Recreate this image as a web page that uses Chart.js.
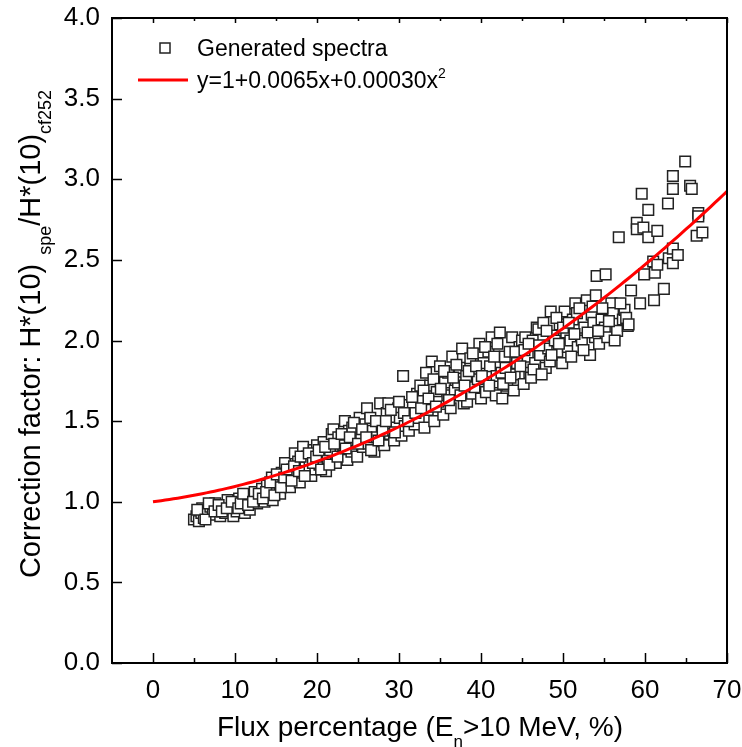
<!DOCTYPE html>
<html>
<head>
<meta charset="utf-8">
<script src="https://cdn.jsdelivr.net/npm/chart.js@4.4.1/dist/chart.umd.min.js"></script>
<style>
  html, body { margin: 0; padding: 0; background: #fff; }
</style>
</head>
<body>
<canvas id="grafico" width="742" height="747"></canvas>
<script>
// flux fraction above 10 MeV (%) and correction factor for each generated spectrum
const fluxPct = [
  5.0, 5.3, 5.6, 5.9, 6.2, 6.0, 6.6, 7.0, 7.3, 7.6, 7.9, 8.2, 8.5, 8.8, 9.1, 9.4, 9.8, 10.0,
  10.2, 10.5, 10.9, 11.2, 11.5, 11.8, 12.0, 12.4, 12.7, 13.0, 13.3, 13.6, 13.9, 14.1,
  14.5, 14.6, 14.9, 15.2, 15.5, 15.7, 15.9, 16.1, 16.4, 16.7, 17.0, 17.3, 17.5, 17.7, 17.9,
  18.2, 18.3, 18.6, 18.8, 19.1, 19.3, 19.6, 19.8, 20.0, 20.3, 20.6, 20.8, 21.1, 21.3, 21.6, 21.8,
  22.0, 22.3, 22.6, 22.9, 23.2, 23.4, 23.7, 23.9, 24.2, 24.3, 24.6, 24.9, 25.2, 25.4, 25.6, 25.9,
  26.1, 26.3, 26.5, 26.8, 27.0, 27.3, 27.7, 27.9, 28.2, 28.5, 28.7, 28.9, 29.1, 29.4, 29.7, 29.9,
  30.1, 30.3, 30.5, 30.7, 31.0, 31.2, 31.4, 31.7, 31.9, 32.2, 32.4, 32.6, 32.9, 33.1, 33.3, 33.5, 33.8, 34.0,
  34.3, 34.6, 34.8, 35.0, 35.2, 35.4, 35.6, 35.9, 36.0, 36.3, 36.5, 36.8, 37.2, 37.4, 37.7, 37.9,
  38.2, 38.3, 38.7, 38.9, 39.2, 39.6, 39.8, 40.0, 40.3, 40.6, 40.9, 41.1, 41.3, 41.5, 41.8, 41.9,
  42.3, 42.5, 42.6, 42.9, 43.2, 43.5, 43.8, 44.0, 44.1, 44.4, 44.7, 45.0, 45.2, 45.4, 45.7, 45.9,
  46.1, 46.3, 46.6, 46.8, 47.0, 47.2, 47.6, 47.9, 48.2, 48.4, 48.5, 48.8, 49.0, 49.3, 49.6, 49.9,
  50.2, 50.4, 50.6, 50.9, 51.2, 51.5, 51.8, 51.7, 52.3, 52.6, 52.9, 53.3, 53.5, 53.7, 53.9, 54.0,
  54.1, 54.4, 54.7, 55.1, 55.2, 55.4, 55.9, 56.1, 56.6, 56.8, 57.3, 57.5, 57.9,
  58.3, 59.0, 59.0, 59.4, 59.6, 59.8, 59.9, 60.4, 60.4, 61.0, 61.1, 61.2, 61.5, 61.5, 62.3,
  62.8, 62.9, 63.4, 63.4, 63.4, 63.4, 64.0, 64.9, 65.5, 65.7, 66.3, 66.5, 66.5, 67.0,
  5.4, 6.4, 6.8, 7.5, 8.0, 8.4, 9.0, 9.6, 10.4, 10.7, 11.0, 11.6, 12.2, 12.9, 13.4, 13.8,
  14.3, 14.8, 15.1, 15.6, 16.0, 16.3, 16.9, 17.2, 17.8, 18.0, 18.5, 19.0, 19.5, 19.9, 20.2, 20.5,
  21.0, 21.5, 22.1, 22.5, 23.0, 23.5, 24.0, 24.5, 25.0, 25.5, 26.0, 26.6, 27.2, 27.5, 28.0, 28.4,
  29.0, 29.5, 30.0, 30.6, 31.1, 31.6, 32.0, 32.7, 33.0, 33.6, 34.2, 34.5, 35.1, 35.5, 36.1, 36.6,
  37.0, 37.5, 38.0, 38.5, 39.0, 39.4, 40.1, 40.5, 41.0, 41.6, 42.0, 42.7, 43.0, 43.6, 44.2, 44.8,
  45.3, 45.8, 46.4, 47.1, 47.4, 48.0, 48.6, 49.2, 49.5, 50.0, 50.7, 51.0, 51.4, 52.0, 52.5, 53.0,
  53.6, 54.3, 54.8, 55.6, 56.3, 57.0, 57.7, 58.0
];
const corrFactor = [
  0.89, 0.91, 0.88, 0.93, 0.90, 0.96, 0.94, 0.97, 0.92, 0.99, 0.95, 0.91, 0.97, 0.93, 1.01, 0.95, 0.91, 0.98,
  0.94, 1.02, 0.97, 0.93, 1.01, 0.95, 1.04, 1.06, 0.99, 1.02, 1.08, 1.00, 1.10, 1.04,
  1.15, 1.01, 1.08, 1.12, 1.05, 1.18, 1.10, 1.24, 1.14, 1.09, 1.20, 1.30, 1.16, 1.25, 1.12,
  1.18, 1.34, 1.22, 1.28, 1.26, 1.16, 1.32, 1.20, 1.35, 1.23, 1.29, 1.37, 1.19, 1.27, 1.32, 1.42,
  1.45, 1.24, 1.40, 1.30, 1.35, 1.50, 1.26, 1.44, 1.31, 1.46, 1.38, 1.28, 1.52, 1.42, 1.34, 1.48,
  1.58, 1.36, 1.52, 1.44, 1.31, 1.40, 1.61, 1.47, 1.35, 1.55, 1.61, 1.42, 1.51, 1.38, 1.46, 1.58,
  1.52, 1.41, 1.78, 1.47, 1.60, 1.44, 1.55, 1.59, 1.48, 1.67, 1.52, 1.72, 1.63, 1.46, 1.80, 1.57, 1.72, 1.87,
  1.50, 1.68, 1.62, 1.84, 1.76, 1.54, 1.74, 1.66, 1.80, 1.58, 1.90, 1.69, 1.74, 1.83, 1.95, 1.61,
  1.78, 1.62, 1.89, 1.67, 1.71, 1.76, 1.98, 1.64, 1.86, 1.68, 1.93, 1.84, 2.02, 1.74, 1.66, 1.78,
  2.05, 1.80, 1.64, 1.90, 1.72, 1.93, 2.02, 1.69, 1.79, 1.86, 1.96, 2.00, 1.73, 2.02, 1.90, 1.80,
  1.77, 2.00, 1.86, 2.08, 2.07, 1.91, 2.11, 1.83, 1.95, 1.87, 2.18, 2.03, 2.00, 1.93, 2.10, 1.86,
  2.18, 2.05, 1.96, 2.00, 2.13, 2.23, 1.96, 2.17, 2.00, 2.08, 2.25, 1.91, 2.16, 2.11, 2.02, 2.28,
  2.40, 1.98, 2.13, 2.08, 2.41, 2.02, 2.23, 2.17, 2.06, 2.64, 2.13, 2.19, 2.09,
  2.31, 2.73, 2.69, 2.23, 2.91, 2.70, 2.41, 2.81, 2.64, 2.49, 2.25, 2.42, 2.68, 2.47, 2.32,
  2.85, 2.51, 3.02, 2.94, 2.57, 2.48, 2.53, 3.11, 2.96, 2.94, 2.65, 2.79, 2.77, 2.67,
  0.95, 0.89, 0.99, 0.94, 0.98, 0.94, 0.96, 1.00, 0.96, 0.99, 1.05, 0.98, 1.00, 1.05, 1.02, 1.06,
  1.12, 1.04, 1.17, 1.09, 1.15, 1.20, 1.13, 1.22, 1.19, 1.28, 1.16, 1.30, 1.24, 1.28, 1.32, 1.20,
  1.34, 1.23, 1.36, 1.28, 1.42, 1.33, 1.40, 1.49, 1.36, 1.45, 1.40, 1.32, 1.50, 1.38, 1.44, 1.50,
  1.57, 1.43, 1.62, 1.55, 1.50, 1.65, 1.55, 1.58, 1.69, 1.64, 1.76, 1.59, 1.70, 1.81, 1.63, 1.77,
  1.85, 1.66, 1.72, 1.81, 1.92, 1.84, 1.78, 1.96, 1.72, 1.90, 1.98, 1.73, 1.83, 1.77, 1.93, 1.84,
  1.94, 1.98, 1.82, 1.97, 1.79, 2.06, 1.91, 2.14, 1.98, 2.08, 2.11, 1.90, 2.04, 2.20, 1.94, 2.05,
  2.21, 2.06, 2.20, 2.12, 2.00, 2.23, 2.14, 2.10
];

// fitted curve y = a + b*x + c*x^2, as given in the legend
const fitCoef = [1, 0.0065, 0.00030];
const fitFrom = 0;
const fitTo = 70;

const xTicks = [0, 10, 20, 30, 40, 50, 60, 70];
const yTicks = [0.0, 0.5, 1.0, 1.5, 2.0, 2.5, 3.0, 3.5, 4.0];

const fonte = '"Liberation Sans", Arial, sans-serif';

const pontos = fluxPct.map((x, i) => ({ x: x, y: corrFactor[i] }));

const curva = [];
for (let x = fitFrom; x <= fitTo; x += 0.5) {
    curva.push({ x: x, y: fitCoef[0] + fitCoef[1] * x + fitCoef[2] * x * x });
}

// draws text made of pieces, some of them sub/superscript
function textoComposto(ctx, partes, tamanho, x, y, alinhamento) {
    const medidas = partes.map(p => {
        const t = p.pos ? Math.round(tamanho * 0.62) : tamanho;
        ctx.font = t + 'px ' + fonte;
        return ctx.measureText(p.t).width + (p.gap || 0);
    });
    const total = medidas.reduce((a, b) => a + b, 0);
    let cx = alinhamento === 'center' ? x - total / 2 : x;
    ctx.textBaseline = 'alphabetic';
    ctx.textAlign = 'left';
    partes.forEach((p, i) => {
        const t = p.pos ? Math.round(tamanho * 0.62) : tamanho;
        ctx.font = t + 'px ' + fonte;
        let dy = 0;
        if (p.pos === 'sub') dy = tamanho * 0.38;
        if (p.pos === 'sup') dy = -tamanho * 0.42;
        ctx.fillText(p.t, cx + (p.gap || 0), y + dy);
        cx += medidas[i];
    });
}

const molduraPlugin = {
    id: 'moldura',
    afterDatasetsDraw(chart) {
        const ctx = chart.ctx;
        const a = chart.chartArea;
        const sx = chart.scales.x;
        const sy = chart.scales.y;
        ctx.save();
        ctx.strokeStyle = '#000';
        ctx.lineWidth = 2;
        ctx.strokeRect(a.left, a.top, a.right - a.left, a.bottom - a.top);

        ctx.lineWidth = 1.5;
        ctx.beginPath();
        // bottom and top ticks, pointing inward
        for (let v = 0; v <= 70; v += 5) {
            const px = Math.round(sx.getPixelForValue(v)) + 0.5;
            const major = v % 10 === 0;
            ctx.moveTo(px, a.bottom);
            ctx.lineTo(px, a.bottom - (major ? 10 : 5));
            ctx.moveTo(px, a.top);
            ctx.lineTo(px, a.top + (major ? 5 : 3));
        }
        // left ticks
        yTicks.forEach(v => {
            const py = Math.round(sy.getPixelForValue(v)) + 0.5;
            ctx.moveTo(a.left, py);
            ctx.lineTo(a.left + 10, py);
        });
        ctx.stroke();

        // legend
        ctx.fillStyle = '#fff';
        ctx.strokeStyle = '#222';
        ctx.lineWidth = 1.5;
        ctx.fillRect(160, 43, 10, 10);
        ctx.strokeRect(160, 43, 10, 10);
        ctx.strokeStyle = '#ff0000';
        ctx.lineWidth = 3;
        ctx.beginPath();
        ctx.moveTo(138, 80);
        ctx.lineTo(188, 80);
        ctx.stroke();

        ctx.fillStyle = '#000';
        textoComposto(ctx, [{ t: 'Generated spectra' }], 23, 197, 56, 'left');
        textoComposto(ctx, [{ t: 'y=1+0.0065x+0.00030x' }, { t: '2', pos: 'sup' }], 23, 197, 88, 'left');

        // x axis title
        textoComposto(ctx, [
            { t: 'Flux percentage (E' },
            { t: 'n', pos: 'sub' },
            { t: '>10 MeV, %)' }
        ], 28, 420, 736, 'center');

        // y axis title
        ctx.translate(40, 334);
        ctx.rotate(-Math.PI / 2);
        textoComposto(ctx, [
            { t: 'Correction factor: H*(10)' },
            { t: 'spe', pos: 'sub', gap: 9 },
            { t: '/H*(10)' },
            { t: 'cf252', pos: 'sub' }
        ], 29, 0, 0, 'center');
        ctx.restore();
    }
};

const ctx = document.getElementById('grafico');

new Chart(ctx, {
    type: 'scatter',
    data: {
        datasets: [
            {
                label: 'y=1+0.0065x+0.00030x2',
                data: curva,
                showLine: true,
                borderColor: '#ff0000',
                borderWidth: 3,
                pointRadius: 0,
                tension: 0,
                order: 0
            },
            {
                label: 'Generated spectra',
                data: pontos,
                pointStyle: 'rect',
                pointRadius: 7.5,
                pointBackgroundColor: '#ffffff',
                pointBorderColor: '#222222',
                pointBorderWidth: 1.5,
                order: 1
            }
        ]
    },
    options: {
        responsive: false,
        animation: false,
        devicePixelRatio: 1,
        layout: { padding: { top: 18, right: 15, left: 0, bottom: 0 } },
        plugins: {
            legend: { display: false },
            tooltip: { enabled: false }
        },
        scales: {
            x: {
                type: 'linear',
                min: -5,
                max: 70,
                afterBuildTicks: s => { s.ticks = xTicks.map(v => ({ value: v })); },
                afterFit: s => {
                    s.height = 84;
                    s.paddingLeft = 0;
                    s.paddingRight = 0;
                },
                grid: { display: false, drawTicks: false },
                border: { display: false },
                ticks: {
                    autoSkip: false,
                    maxRotation: 0,
                    padding: 12,
                    color: '#000',
                    font: { family: fonte, size: 26 }
                }
            },
            y: {
                type: 'linear',
                min: 0,
                max: 4,
                afterBuildTicks: s => { s.ticks = yTicks.map(v => ({ value: v })); },
                afterFit: s => {
                    s.width = 112;
                    s.paddingTop = 0;
                    s.paddingBottom = 0;
                },
                grid: { display: false, drawTicks: false },
                border: { display: false },
                ticks: {
                    padding: 12,
                    color: '#000',
                    font: { family: fonte, size: 26 },
                    callback: v => v.toFixed(1)
                }
            }
        }
    },
    plugins: [molduraPlugin]
});
</script>
</body>
</html>
